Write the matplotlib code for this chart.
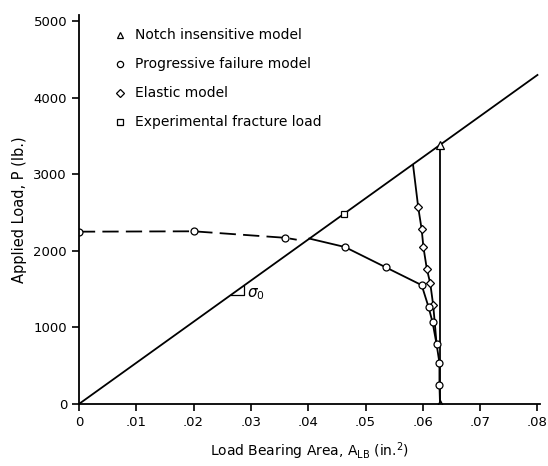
import numpy as np
import matplotlib.pyplot as plt

plt.rcParams['font.family'] = ['DejaVu Sans']

# sigma_0 line (notch insensitive stress)
sigma0 = 53700.0
line_x = [0.0, 0.08]

# notch insensitive model
notch_x = [0.063, 0.063]
notch_y = [0, 3380]

# progressive failure model, dashed part (before the sigma_0 line)
prog_dash_x = [0.0, 0.02, 0.036, 0.038]
prog_dash_y = [2250, 2255, 2170, 2145]
prog_dash_mk = [0, 1, 2]

# progressive failure model, solid part
prog_x = [0.0402, 0.0464, 0.0535, 0.0598, 0.0610, 0.0617, 0.0624, 0.0629, 0.0629, 0.0630]
prog_y = [2160, 2050, 1786, 1552, 1266, 1067, 780, 538, 251, 0]
prog_mk = [1, 2, 3, 4, 5, 6, 7, 8]

# elastic model
elas_x = [0.0583, 0.0592, 0.0598, 0.0601, 0.0607, 0.0613, 0.0618, 0.0621, 0.0624]
elas_y = [3120, 2566, 2279, 2050, 1763, 1574, 1296, 1050, 780]
elas_mk = [1, 2, 3, 4, 5, 6]

# experimental fracture load
exp_x = [0.0462]
exp_y = [2480]

legend_labels = ['Notch insensitive model', 'Progressive failure model',
                 'Elastic model', 'Experimental fracture load']
legend_markers = ['^', 'o', 'D', 's']

fig = plt.figure(figsize=(5.48, 4.66), dpi=100)
ax = fig.add_axes([0.144, 0.133, 0.842, 0.835])

lw = 1.3
mk = dict(markerfacecolor='white', markeredgecolor='black', markeredgewidth=0.9)

ax.plot(line_x, [sigma0 * x for x in line_x], color='black', lw=lw)
ax.plot(notch_x, notch_y, color='black', lw=lw, marker='^', markersize=6, **mk)
ax.plot(prog_dash_x, prog_dash_y, color='black', lw=lw, dashes=(9, 4),
        marker='o', markersize=5, markevery=prog_dash_mk, **mk)
ax.plot(elas_x, elas_y, color='black', lw=lw,
        marker='D', markersize=4.5, markevery=elas_mk, **mk)
ax.plot(prog_x, prog_y, color='black', lw=lw,
        marker='o', markersize=5, markevery=prog_mk, **mk)
ax.plot(exp_x, exp_y, ls='none', marker='s', markersize=5, **mk)

# slope triangle for sigma_0
tx0, tx1 = 0.0265, 0.0288
ax.plot([tx0, tx1, tx1], [sigma0 * tx0, sigma0 * tx0, sigma0 * tx1], color='black', lw=0.9)
ax.text(0.0294, 1430, r'$\sigma_0$', fontsize=11, va='center', ha='left')

# legend drawn as text rows
for i, (lab, m) in enumerate(zip(legend_labels, legend_markers)):
    yy = 0.949 - i * 0.075
    ax.plot([0.089], [yy], transform=ax.transAxes, marker=m, ls='none',
            markersize=4.5 if m != 'D' else 4, clip_on=False, **mk)
    ax.text(0.121, yy, lab, transform=ax.transAxes, fontsize=10, va='center', ha='left')

ax.set_xlim(0, 0.0805)
ax.set_ylim(0, 5080)
ax.set_xticks([0, 0.01, 0.02, 0.03, 0.04, 0.05, 0.06, 0.07, 0.08])
ax.set_xticklabels(['0', '.01', '.02', '.03', '.04', '.05', '.06', '.07', '.08'])
ax.set_yticks([0, 1000, 2000, 3000, 4000, 5000])
ax.tick_params(labelsize=9.5, direction='out', length=5, width=1.2)
for s in ['top', 'right']:
    ax.spines[s].set_visible(False)
for s in ['left', 'bottom']:
    ax.spines[s].set_linewidth(1.3)

ax.set_xlabel(r'Load Bearing Area, A$_{\mathregular{LB}}$ (in.$^{\mathregular{2}}$)', fontsize=10, labelpad=8)
ax.set_ylabel('Applied Load, P (lb.)', fontsize=10.5, labelpad=5)

fig.savefig('out.png', dpi=100)
